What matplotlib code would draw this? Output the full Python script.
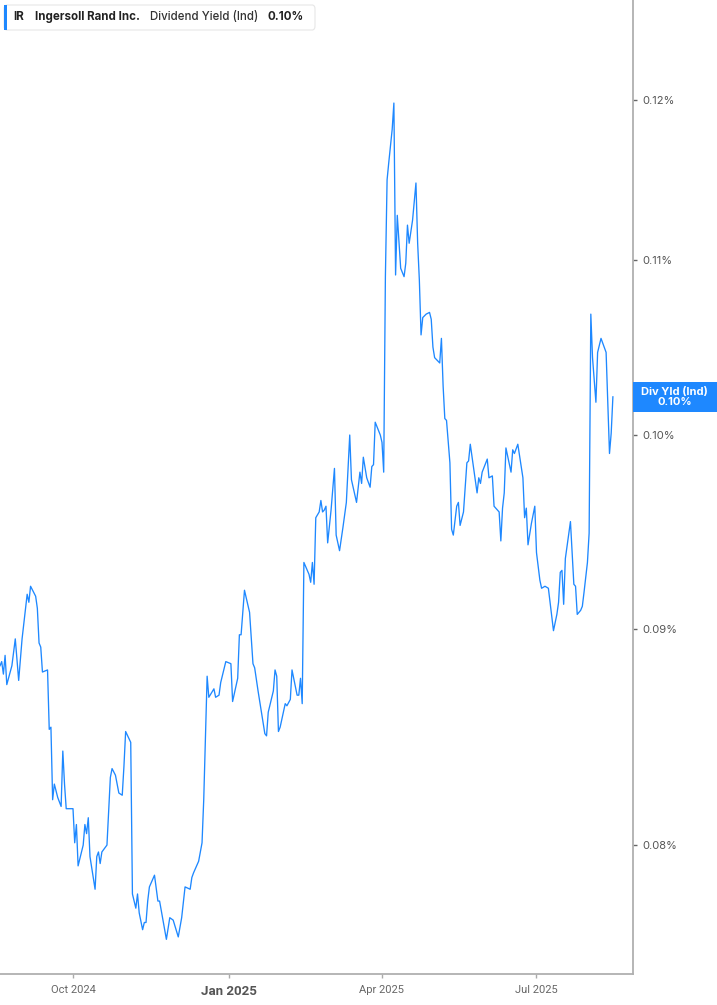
import matplotlib
matplotlib.use('Agg')
import matplotlib.pyplot as plt
import pandas as pd
from matplotlib.patches import Rectangle, FancyBboxPatch
from matplotlib.ticker import FixedLocator, FuncFormatter, NullLocator

# daily dividend yield (Ind), in %
dates = [
    '2024-08-19', '2024-08-20', '2024-08-21', '2024-08-22', '2024-08-23', '2024-08-26', '2024-08-28', '2024-08-30',
    '2024-09-01', '2024-09-04', '2024-09-05', '2024-09-06', '2024-09-09', '2024-09-10', '2024-09-11', '2024-09-12',
    '2024-09-13', '2024-09-16', '2024-09-17', '2024-09-18', '2024-09-19', '2024-09-20', '2024-09-22', '2024-09-24',
    '2024-09-25', '2024-09-26', '2024-09-27', '2024-09-29', '2024-10-01', '2024-10-02', '2024-10-03', '2024-10-04',
    '2024-10-07', '2024-10-08', '2024-10-09', '2024-10-10', '2024-10-11', '2024-10-14', '2024-10-15', '2024-10-16',
    '2024-10-17', '2024-10-18', '2024-10-21', '2024-10-23', '2024-10-24', '2024-10-26', '2024-10-28', '2024-10-30',
    '2024-10-31', '2024-11-01', '2024-11-04', '2024-11-05', '2024-11-07', '2024-11-08', '2024-11-09', '2024-11-11',
    '2024-11-12', '2024-11-13', '2024-11-14', '2024-11-15', '2024-11-18', '2024-11-20', '2024-11-21', '2024-11-23',
    '2024-11-25', '2024-11-27', '2024-11-29', '2024-12-02', '2024-12-04', '2024-12-06', '2024-12-09', '2024-12-10',
    '2024-12-11', '2024-12-14', '2024-12-16', '2024-12-17', '2024-12-19', '2024-12-20', '2024-12-23', '2024-12-24',
    '2024-12-26', '2024-12-27', '2024-12-30', '2025-01-02', '2025-01-03', '2025-01-06', '2025-01-07', '2025-01-08',
    '2025-01-10', '2025-01-13', '2025-01-15', '2025-01-16', '2025-01-18', '2025-01-22', '2025-01-23', '2025-01-24',
    '2025-01-27', '2025-01-28', '2025-01-29', '2025-01-30', '2025-01-31', '2025-02-03', '2025-02-04', '2025-02-06',
    '2025-02-07', '2025-02-10', '2025-02-11', '2025-02-12', '2025-02-13', '2025-02-14', '2025-02-17', '2025-02-18',
    '2025-02-19', '2025-02-20', '2025-02-21', '2025-02-23', '2025-02-24', '2025-02-25', '2025-02-26', '2025-02-27',
    '2025-02-28', '2025-03-02', '2025-03-04', '2025-03-05', '2025-03-07', '2025-03-09', '2025-03-11', '2025-03-13',
    '2025-03-14', '2025-03-17', '2025-03-19', '2025-03-20', '2025-03-21', '2025-03-23', '2025-03-25', '2025-03-26',
    '2025-03-27', '2025-03-28', '2025-03-31', '2025-04-01', '2025-04-02', '2025-04-03', '2025-04-04', '2025-04-05',
    '2025-04-07', '2025-04-08', '2025-04-09', '2025-04-10', '2025-04-12', '2025-04-14', '2025-04-15', '2025-04-16',
    '2025-04-17', '2025-04-19', '2025-04-21', '2025-04-22', '2025-04-23', '2025-04-24', '2025-04-25', '2025-04-27',
    '2025-04-29', '2025-04-30', '2025-05-01', '2025-05-02', '2025-05-05', '2025-05-06', '2025-05-07', '2025-05-08',
    '2025-05-09', '2025-05-11', '2025-05-12', '2025-05-13', '2025-05-15', '2025-05-16', '2025-05-17', '2025-05-19',
    '2025-05-21', '2025-05-22', '2025-05-23', '2025-05-27', '2025-05-28', '2025-05-29', '2025-05-30', '2025-06-02',
    '2025-06-03', '2025-06-05', '2025-06-06', '2025-06-09', '2025-06-10', '2025-06-11', '2025-06-12', '2025-06-13',
    '2025-06-16', '2025-06-17', '2025-06-18', '2025-06-20', '2025-06-23', '2025-06-24', '2025-06-25', '2025-06-26',
    '2025-06-28', '2025-06-30', '2025-07-01', '2025-07-03', '2025-07-04', '2025-07-06', '2025-07-08', '2025-07-09',
    '2025-07-11', '2025-07-13', '2025-07-14', '2025-07-15', '2025-07-16', '2025-07-17', '2025-07-18', '2025-07-21',
    '2025-07-23', '2025-07-24', '2025-07-25', '2025-07-27', '2025-07-28', '2025-07-29', '2025-07-31', '2025-08-01',
    '2025-08-02', '2025-08-03', '2025-08-05', '2025-08-06', '2025-08-08', '2025-08-11', '2025-08-13', '2025-08-14',
    '2025-08-15',
]
yield_pct = [
    0.0882, 0.0884, 0.0878, 0.0887, 0.0873, 0.0882, 0.0895, 0.0875,
    0.0895, 0.0917, 0.0913, 0.0921, 0.0916, 0.0910, 0.0893, 0.0891,
    0.0879, 0.0880, 0.0852, 0.0853, 0.0820, 0.0827, 0.0821, 0.0817,
    0.0842, 0.0827, 0.0816, 0.0816, 0.0816, 0.0801, 0.0809, 0.0791,
    0.0800, 0.0809, 0.0805, 0.0812, 0.0795, 0.0781, 0.0795, 0.0797,
    0.0792, 0.0797, 0.0800, 0.0830, 0.0834, 0.0831, 0.0823, 0.0822,
    0.0835, 0.0851, 0.0846, 0.0779, 0.0773, 0.0779, 0.0771, 0.0764,
    0.0767, 0.0767, 0.0776, 0.0782, 0.0787, 0.0776, 0.0776, 0.0768,
    0.0760, 0.0769, 0.0768, 0.0761, 0.0769, 0.0782, 0.0781, 0.0786,
    0.0788, 0.0793, 0.0801, 0.0820, 0.0877, 0.0867, 0.0871, 0.0867,
    0.0868, 0.0874, 0.0884, 0.0883, 0.0865, 0.0876, 0.0897, 0.0897,
    0.0919, 0.0908, 0.0883, 0.0881, 0.0870, 0.0850, 0.0849, 0.0860,
    0.0870, 0.0880, 0.0877, 0.0851, 0.0853, 0.0864, 0.0863, 0.0866,
    0.0880, 0.0868, 0.0868, 0.0876, 0.0864, 0.0933, 0.0927, 0.0923,
    0.0933, 0.0922, 0.0956, 0.0959, 0.0965, 0.0959, 0.0960, 0.0962,
    0.0943, 0.0960, 0.0982, 0.0947, 0.0939, 0.0951, 0.0964, 0.1000,
    0.0976, 0.0964, 0.0980, 0.0974, 0.0988, 0.0977, 0.0972, 0.0983,
    0.0984, 0.1007, 0.1000, 0.0996, 0.0980, 0.1090, 0.1149, 0.1160,
    0.1181, 0.1198, 0.1091, 0.1127, 0.1095, 0.1090, 0.1098, 0.1121,
    0.1110, 0.1124, 0.1147, 0.1110, 0.1088, 0.1056, 0.1066, 0.1068,
    0.1069, 0.1065, 0.1049, 0.1043, 0.1040, 0.1054, 0.1027, 0.1009,
    0.1008, 0.0985, 0.0950, 0.0947, 0.0962, 0.0964, 0.0952, 0.0959,
    0.0985, 0.0986, 0.0995, 0.0969, 0.0977, 0.0974, 0.0980, 0.0987,
    0.0977, 0.0978, 0.0962, 0.0959, 0.0944, 0.0961, 0.0969, 0.0993,
    0.0980, 0.0992, 0.0990, 0.0995, 0.0977, 0.0956, 0.0961, 0.0942,
    0.0953, 0.0962, 0.0938, 0.0924, 0.0920, 0.0921, 0.0920, 0.0913,
    0.0899, 0.0907, 0.0913, 0.0928, 0.0929, 0.0912, 0.0935, 0.0954,
    0.0922, 0.0921, 0.0907, 0.0909, 0.0911, 0.0918, 0.0933, 0.0948,
    0.1068, 0.1043, 0.1018, 0.1046, 0.1054, 0.1046, 0.0990, 0.1001,
    0.1021,
]
y_ticks = [0.08, 0.09, 0.10, 0.11, 0.12]
x_ticks = ['2024-10-01', '2025-01-01', '2025-04-01', '2025-07-01']
x_tick_labels = ['Oct 2024', 'Jan 2025', 'Apr 2025', 'Jul 2025']

line_color = '#1e88ff'
W, H = 717, 1005

plt.rcParams['font.family'] = ['Inter', 'DejaVu Sans']

fig = plt.figure(figsize=(W / 100, H / 100), dpi=100)
ax = fig.add_axes([0, 31 / H, 632.7 / W, 974 / H])

ax.plot(pd.to_datetime(dates), yield_pct, color=line_color, lw=0.95)

ax.set_yscale('log')
ax.set_ylim(0.07458, 0.12671)
ax.set_xlim(pd.Timestamp('2024-08-19'), pd.Timestamp('2025-08-26 16:00'))

ax.yaxis.tick_right()
ax.yaxis.set_major_locator(FixedLocator(y_ticks))
ax.yaxis.set_minor_locator(NullLocator())
ax.yaxis.set_major_formatter(FuncFormatter(lambda v, p: f'{v:.2f}%'))
ax.tick_params(axis='y', length=3, width=1, color='#666666', labelcolor='#555555',
               labelsize=8, pad=4)

ax.set_xticks(pd.to_datetime(x_ticks))
ax.set_xticklabels(x_tick_labels)
ax.xaxis.set_minor_locator(NullLocator())
ax.tick_params(axis='x', length=3, width=1, color='#aaaaaa', labelcolor='#666666',
               labelsize=8, pad=5)
for lbl in ax.get_xticklabels():
    lbl.set_family(['Roboto', 'DejaVu Sans'])
jan = ax.get_xticklabels()[1]
jan.set_fontweight('bold')
jan.set_fontsize(9.5)
jan.set_color('#555555')

for s in ['left', 'top']:
    ax.spines[s].set_visible(False)
for s in ['right', 'bottom']:
    ax.spines[s].set_color('#b0b0b0')
    ax.spines[s].set_linewidth(1.3)

# last value tag on the right
last = yield_pct[-1]
ypix = ax.transData.transform((0, last))[1]
x0 = 632.7
fig.patches.append(Rectangle((x0 / W, (ypix - 15) / H), (W - x0) / W, 30 / H,
                             transform=fig.transFigure, facecolor=line_color,
                             edgecolor='none'))
fig.text((x0 + W) / 2 / W, ypix / H, f'Div Yld (Ind)\n{last:.2f}%', color='white',
         fontsize=8, fontweight='bold', ha='center', va='center', linespacing=1.0)

# legend header
fig.patches.append(FancyBboxPatch((4 / W, 1 - 30 / H), 311 / W, 25 / H,
                                  boxstyle='round,pad=0,rounding_size=0.004',
                                  transform=fig.transFigure, facecolor='white',
                                  edgecolor='#e6e6e6', lw=0.8))
fig.patches.append(Rectangle((4 / W, 1 - 30 / H), 3 / W, 25 / H,
                             transform=fig.transFigure, facecolor=line_color,
                             edgecolor='none'))
ty = 1 - 17 / H
fs = 8.3
fig.text(13 / W, ty, 'IR', fontsize=fs, fontweight='bold', color='#222222', va='center')
fig.text(35 / W, ty, 'Ingersoll Rand Inc.', fontsize=fs, fontweight='bold',
         color='#222222', va='center')
fig.text(150 / W, ty, 'Dividend Yield (Ind)', fontsize=fs, fontweight='medium',
         color='#333333', va='center')
fig.text(267 / W, ty, f'{last:.2f}%', fontsize=fs, fontweight='bold',
         color='#222222', va='center')

fig.savefig('out.png', dpi=100)
